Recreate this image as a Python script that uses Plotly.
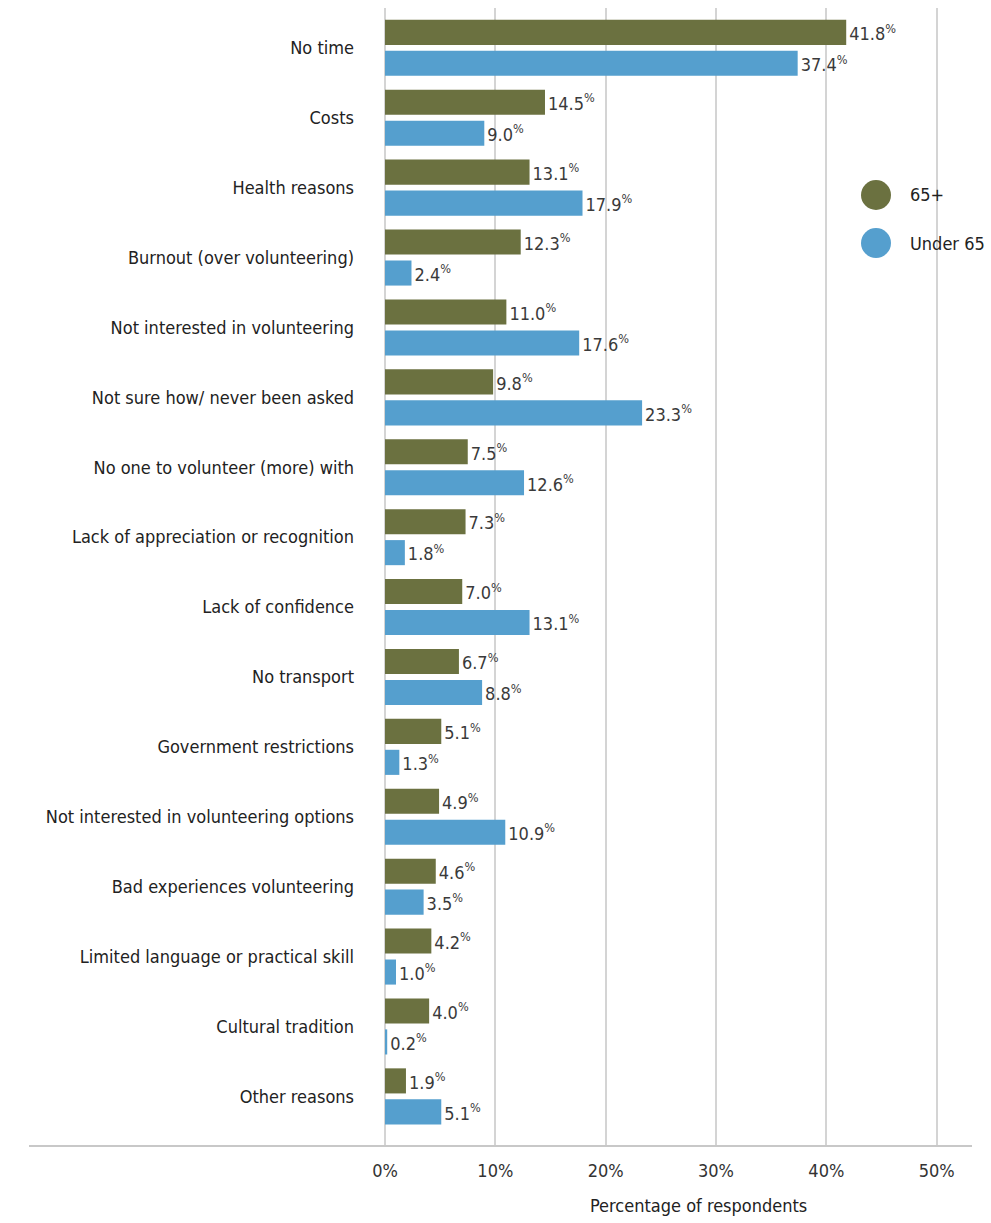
import plotly.graph_objects as go

categories = [
    "No time", "Costs", "Health reasons", "Burnout (over volunteering)",
    "Not interested in volunteering", "Not sure how/ never been asked",
    "No one to volunteer (more) with", "Lack of appreciation or recognition",
    "Lack of confidence", "No transport", "Government restrictions",
    "Not interested in volunteering options", "Bad experiences volunteering",
    "Limited language or practical skill", "Cultural tradition", "Other reasons",
]
over65 = [41.8, 14.5, 13.1, 12.3, 11.0, 9.8, 7.5, 7.3, 7.0, 6.7, 5.1, 4.9, 4.6, 4.2, 4.0, 1.9]
under65 = [37.4, 9.0, 17.9, 2.4, 17.6, 23.3, 12.6, 1.8, 13.1, 8.8, 1.3, 10.9, 3.5, 1.0, 0.2, 5.1]
series_names = ["65+", "Under 65"]
colors = ["#6b7140", "#559fce"]
xticks = [0, 10, 20, 30, 40, 50]
xticklabels = ["0%", "10%", "20%", "30%", "40%", "50%"]

FONT = "DejaVu Sans Condensed, Liberation Sans Narrow, sans-serif"
FS = 18

fig = go.Figure()
for name, vals, col in zip(series_names, [over65, under65], colors):
    fig.add_trace(go.Bar(
        y=categories, x=vals, orientation="h", name=name,
        marker=dict(color=col, line=dict(width=0)),
        text=[f"{v:.1f}<sup>%</sup>" for v in vals],
        textposition="outside", cliponaxis=False,
        textfont=dict(family=FONT, size=FS, color="#3a3a3a"),
        showlegend=False,
    ))

L, R, T, B = 385, 19, 8, 77
W, H = 991, 1223
pw = W - L - R

fig.update_layout(
    width=W, height=H,
    margin=dict(l=L, r=R, t=T, b=B),
    plot_bgcolor="white", paper_bgcolor="white",
    barmode="group", bargap=0.114, bargroupgap=0.19,
    font=dict(family=FONT, size=FS, color="#222"),
    xaxis=dict(
        range=[0, 53.2], tickvals=xticks, ticktext=xticklabels,
        showgrid=True, gridcolor="#d4d4d4", gridwidth=1.5,
        zeroline=True, zerolinecolor="#d4d4d4", zerolinewidth=1.5,
        showline=False, ticks="", ticklabelstandoff=12,
        tickfont=dict(family=FONT, size=FS, color="#333"),
    ),
    yaxis=dict(
        categoryorder="array", categoryarray=categories,
        range=[15.71, -0.57], showgrid=False, zeroline=False,
        ticks="", ticklabelstandoff=30,
        tickfont=dict(family=FONT, size=FS, color="#222"),
    ),
)

# bottom baseline line
fig.add_shape(type="line", xref="paper", yref="paper",
              x0=(29 - L) / pw, x1=1.0, y0=0, y1=0,
              line=dict(color="#c8c8c8", width=2))

# axis title
fig.add_annotation(text="Percentage of respondents", xref="paper", yref="paper",
                   x=(698 - L) / pw, y=-(1205 - (H - B)) / (H - T - B),
                   xanchor="center", yanchor="middle", showarrow=False,
                   font=dict(family=FONT, size=FS, color="#222"))

# legend (manual)
ph = H - T - B
for i, (name, col) in enumerate(zip(series_names, colors)):
    cy = [195, 243][i]
    cx = 876
    r = 15
    fig.add_shape(type="circle", xref="paper", yref="paper",
                  x0=(cx - r - L) / pw, x1=(cx + r - L) / pw,
                  y0=1 - (cy + r - T) / ph, y1=1 - (cy - r - T) / ph,
                  fillcolor=col, line=dict(width=0), layer="above")
    fig.add_annotation(text=name, xref="paper", yref="paper",
                       x=(908 - L) / pw, y=1 - (cy - T) / ph,
                       xanchor="left", yanchor="middle", showarrow=False,
                       font=dict(family=FONT, size=FS, color="#222"))

fig.write_html("out.html")
